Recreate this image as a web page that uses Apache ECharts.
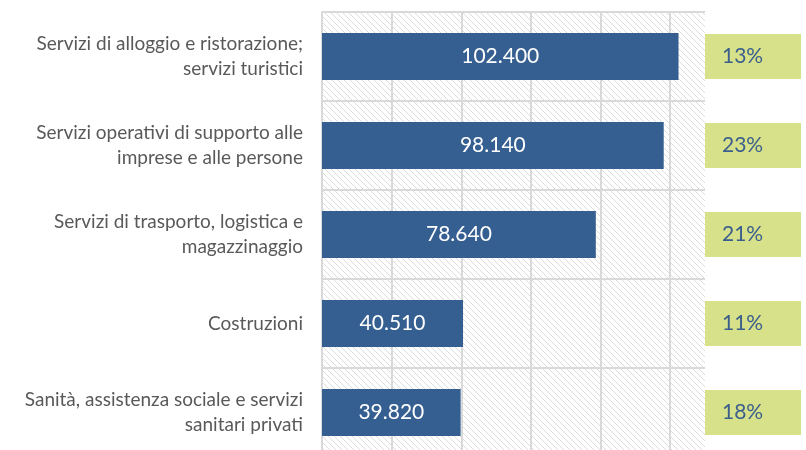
<!DOCTYPE html>
<html>
<head>
<meta charset="utf-8">
<script src="https://cdn.jsdelivr.net/npm/echarts@6/dist/echarts.min.js"></script>
<style>
  html, body { margin: 0; padding: 0; background: #fff; }
  #chart { width: 806px; height: 450px; }
</style>
</head>
<body>
<div id="chart"></div>
<script>
  // Chart data
  const categories = [
    'Servizi di alloggio e ristorazione;\nservizi turistici',
    'Servizi operativi di supporto alle\nimprese e alle persone',
    'Servizi di trasporto, logistica e\nmagazzinaggio',
    'Costruzioni',
    'Sanità, assistenza sociale e servizi\nsanitari privati'
  ];
  const values = [102400, 98140, 78640, 40510, 39820];
  const shares = ['13%', '23%', '21%', '11%', '18%'];

  // Hatched plot background
  const tile = document.createElement('canvas');
  tile.width = 6;
  tile.height = 6;
  const tctx = tile.getContext('2d');
  tctx.fillStyle = '#ffffff';
  tctx.fillRect(0, 0, 6, 6);
  tctx.strokeStyle = '#dcdcdc';
  tctx.lineWidth = 1;
  for (let k = -1; k <= 1; k++) {
    tctx.beginPath();
    tctx.moveTo(k * 6, 0);
    tctx.lineTo(k * 6 + 6, 6);
    tctx.stroke();
  }

  const fmt = (v) => String(v).replace(/\B(?=(\d{3})+(?!\d))/g, '.');

  const chart = echarts.init(document.getElementById('chart'));
  chart.setOption({
    animation: false,
    textStyle: { fontFamily: 'Lato' },
    grid: [
      {
        left: 322, top: 12, width: 383, height: 445,
        outerBoundsMode: 'none',
        show: true, borderWidth: 0,
        backgroundColor: { image: tile, repeat: 'repeat' }
      },
      { left: 705, top: 12, width: 96, height: 445, outerBoundsMode: 'none' }
    ],
    xAxis: [
      {
        gridIndex: 0,
        type: 'value',
        min: 0, max: 110000, interval: 20000,
        axisLine: { show: false },
        axisTick: { show: false },
        axisLabel: { show: false },
        splitLine: { show: true, showMaxLine: false, lineStyle: { color: '#d9d9d9', width: 2 } }
      },
      {
        gridIndex: 1,
        type: 'value',
        min: 0, max: 1,
        show: false
      }
    ],
    yAxis: [
      {
        gridIndex: 0,
        type: 'category',
        inverse: true,
        data: categories,
        axisLine: { show: true, lineStyle: { color: '#d9d9d9', width: 2 } },
        axisTick: { show: false },
        splitLine: { show: true, lineStyle: { color: '#d9d9d9', width: 2 } },
        axisLabel: {
          color: '#595959',
          fontSize: 19,
          lineHeight: 25,
          margin: 19,
          align: 'right'
        }
      },
      {
        gridIndex: 1,
        type: 'category',
        inverse: true,
        data: categories,
        show: false
      }
    ],
    series: [
      {
        type: 'bar',
        xAxisIndex: 0,
        yAxisIndex: 0,
        data: values,
        barWidth: 47,
        itemStyle: { color: '#355f91' },
        label: {
          show: true,
          position: 'inside',
          color: '#ffffff',
          fontSize: 21,
          formatter: (p) => fmt(p.value)
        }
      },
      {
        type: 'bar',
        xAxisIndex: 1,
        yAxisIndex: 1,
        data: shares.map(() => 1),
        barWidth: 45,
        itemStyle: { color: '#d7e18a' },
        label: {
          show: true,
          position: 'insideLeft',
          distance: 17,
          color: '#3b5e8c',
          fontSize: 21,
          formatter: (p) => shares[p.dataIndex]
        }
      }
    ]
  });
</script>
</body>
</html>
